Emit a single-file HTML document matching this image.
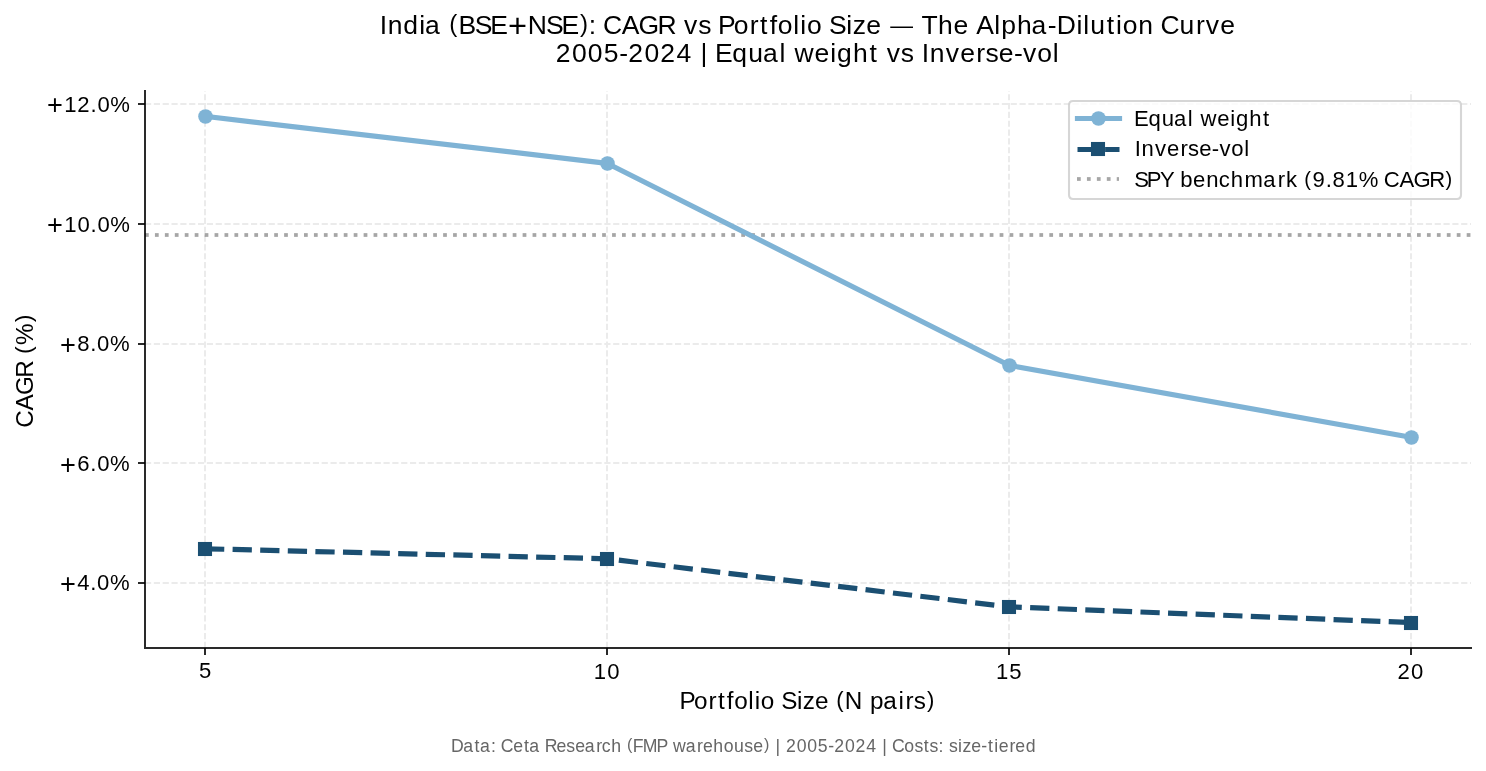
<!DOCTYPE html><html><head><meta charset="utf-8"><title>CAGR vs Portfolio Size</title><style>html,body{margin:0;padding:0;background:#fff;overflow:hidden}svg{display:block}svg{will-change:transform}text{font-family:"Liberation Sans",sans-serif;white-space:pre}</style></head><body>
<svg width="1486" height="771" viewBox="0 0 1486 771">
<rect x="0" y="0" width="1486" height="771" fill="#fff"/>
<defs><clipPath id="ax"><rect x="144.700" y="91.000" width="1326.600" height="556.900"/></clipPath></defs>
<g stroke="#ebebeb" stroke-width="2" stroke-dasharray="6.1667 2.6667" fill="none" clip-path="url(#ax)"><line x1="205" y1="648" x2="205" y2="91"/><line x1="607" y1="648" x2="607" y2="91"/><line x1="1009" y1="648" x2="1009" y2="91"/><line x1="1411" y1="648" x2="1411" y2="91"/><line x1="145" y1="583" x2="1471" y2="583"/><line x1="145" y1="463" x2="1471" y2="463"/><line x1="145" y1="344" x2="1471" y2="344"/><line x1="145" y1="224" x2="1471" y2="224"/><line x1="145" y1="104" x2="1471" y2="104"/></g>
<g fill="none" stroke="#808080" stroke-dasharray="3.75 6.1875" clip-path="url(#ax)"><line x1="145" y1="235" x2="1471" y2="235" stroke-width="2" stroke-opacity="0.7"/><line x1="145" y1="233.5" x2="1471" y2="233.5" stroke-width="1" stroke-opacity="0.6125"/><line x1="145" y1="236.5" x2="1471" y2="236.5" stroke-width="1" stroke-opacity="0.6125"/></g>
<g clip-path="url(#ax)">
<polyline points="205.000,116.314 607.000,163.296 1009.000,365.290 1411.000,437.290" fill="none" stroke="#7fb3d5" stroke-width="5.2083" stroke-linecap="square" stroke-linejoin="round"/>
<circle cx="205.500" cy="116.500" r="7.2917" fill="#7fb3d5"/>
<circle cx="607.500" cy="163.500" r="7.2917" fill="#7fb3d5"/>
<circle cx="1009.500" cy="365.500" r="7.2917" fill="#7fb3d5"/>
<circle cx="1411.500" cy="437.500" r="7.2917" fill="#7fb3d5"/>
<polyline points="205.000,548.791 607.000,558.786 1009.000,606.846 1411.000,622.586" fill="none" stroke="#1b4f72" stroke-width="5.2083" stroke-dasharray="19.2708 8.3333" stroke-linejoin="round"/>
<rect x="197.960" y="541.960" width="14.08" height="14.08" fill="#1b4f72"/>
<rect x="599.960" y="551.960" width="14.08" height="14.08" fill="#1b4f72"/>
<rect x="1001.960" y="599.960" width="14.08" height="14.08" fill="#1b4f72"/>
<rect x="1403.960" y="615.960" width="14.08" height="14.08" fill="#1b4f72"/>
</g>
<g fill="#000" fill-opacity="0.835"><rect x="144" y="90" width="2" height="559"/><rect x="146" y="647" width="1326" height="2"/><rect x="138" y="582" width="6" height="2"/><rect x="138" y="462" width="6" height="2"/><rect x="138" y="343" width="6" height="2"/><rect x="138" y="223" width="6" height="2"/><rect x="138" y="103" width="6" height="2"/><rect x="204" y="649" width="2" height="6"/><rect x="606" y="649" width="2" height="6"/><rect x="1008" y="649" width="2" height="6"/><rect x="1410" y="649" width="2" height="6"/></g>
<g fill="#070707"><rect x="144" y="582" width="1" height="2"/><rect x="144" y="462" width="1" height="2"/><rect x="144" y="343" width="1" height="2"/><rect x="144" y="223" width="1" height="2"/><rect x="144" y="103" width="1" height="2"/><rect x="204" y="648" width="2" height="1"/><rect x="606" y="648" width="2" height="1"/><rect x="1008" y="648" width="2" height="1"/><rect x="1410" y="648" width="2" height="1"/></g>
<path d="M 1073.167 199.000 L 1456.833 199.000 Q 1461.000 199.000 1461.000 194.833 L 1461.000 105.167 Q 1461.000 101.000 1456.833 101.000 L 1073.167 101.000 Q 1069.000 101.000 1069.000 105.167 L 1069.000 194.833 Q 1069.000 199.000 1073.167 199.000 Z" fill="#fff" stroke="#ccc" stroke-width="2.0833" opacity="0.8"/>
<line x1="1077.5" y1="118.5" x2="1119.5" y2="118.5" stroke="#7fb3d5" stroke-width="5.2083" stroke-linecap="square"/>
<circle cx="1098.5" cy="118.5" r="7.2917" fill="#7fb3d5"/>
<line x1="1077.5" y1="149.5" x2="1119.5" y2="149.5" stroke="#1b4f72" stroke-width="5.2083" stroke-dasharray="19.2708 8.3333"/>
<rect x="1090.960" y="141.960" width="14.08" height="14.08" fill="#1b4f72"/>
<g fill="none" stroke="#808080" stroke-dasharray="3.75 6.1875"><line x1="1077" y1="179" x2="1119" y2="179" stroke-width="2" stroke-opacity="0.7"/><line x1="1077" y1="177.5" x2="1119" y2="177.5" stroke-width="1" stroke-opacity="0.6125"/><line x1="1077" y1="180.5" x2="1119" y2="180.5" stroke-width="1" stroke-opacity="0.6125"/></g>
<text transform="translate(200.30,677.60) scale(1.0,1)" x="-1.21" y="0" font-size="22.083" fill="#000">5</text>
<text transform="translate(595.70,678.50) scale(1.0,1)" x="-1.92 11.47" y="0" font-size="22.083" fill="#000">10</text>
<text transform="translate(997.80,678.50) scale(1.0,1)" x="-1.92 11.39" y="0" font-size="22.083" fill="#000">15</text>
<text transform="translate(1398.80,678.50) scale(1.0,1)" x="-1.32 12.24" y="0" font-size="22.083" fill="#000">20</text>
<text transform="translate(61.40,590.00) scale(1.0,1)" x="-1.40 15.76 28.80 35.68 48.56" y="2.50 0 0 0 0" font-size="22.083" fill="#000"><tspan font-size="27.163">+</tspan>4.0%</text>
<text transform="translate(61.50,471.00) scale(1.0,1)" x="-1.40 15.77 28.80 35.68 48.56" y="2.50 0 0 0 0" font-size="22.083" fill="#000"><tspan font-size="27.163">+</tspan>6.0%</text>
<text transform="translate(61.40,351.00) scale(1.0,1)" x="-1.40 15.76 28.80 35.68 48.56" y="2.50 0 0 0 0" font-size="22.083" fill="#000"><tspan font-size="27.163">+</tspan>8.0%</text>
<text transform="translate(48.50,231.50) scale(1.0,1)" x="-1.40 15.65 29.05 42.08 48.96 61.84" y="2.50 0 0 0 0 0" font-size="22.083" fill="#000"><tspan font-size="27.163">+</tspan>10.0%</text>
<text transform="translate(48.50,111.50) scale(1.0,1)" x="-1.40 15.65 28.77 42.08 48.96 61.84" y="2.50 0 0 0 0 0" font-size="22.083" fill="#000"><tspan font-size="27.163">+</tspan>12.0%</text>
<text transform="translate(682.80,708.50) scale(1.0,1)" x="-3.32 11.18 25.77 35.13 43.99 51.35 65.57 71.94 78.06 91.79 98.36 114.08 119.99 132.29 146.02 153.53 162.01 179.33 187.26 200.52 215.63 222.60 230.96 244.16" y="0 0 0 0 0 0 0 0 0 0 0 0 0 0 0 -1.46 0 0 0 0 0 0 0 -1.46" font-size="24.292" fill="#000">Portfolio Size <tspan font-size="22.105">(</tspan>N pairs<tspan font-size="22.105">)</tspan></text>
<text transform="translate(32.50,424.90) rotate(-90) scale(1.0,1)" x="-2.75 14.42 29.95 47.24 63.58 71.09 79.86 102.85" y="0 0 0 0 0 -1.46 0 -1.46" font-size="24.292" fill="#000">CAGR <tspan font-size="22.105">(</tspan>%<tspan font-size="22.105">)</tspan></text>
<text transform="translate(382.20,33.60) scale(1.0,1)" x="-2.45 5.53 21.18 37.18 42.92 58.90 67.10 76.29 92.48 108.09 125.88 145.64 163.80 179.40 197.69 206.52 214.40 220.81 239.48 256.37 275.29 293.15 301.87 315.96 328.92 335.78 351.55 367.56 377.79 387.48 395.53 411.07 418.03 424.72 439.73 446.90 464.08 470.55 483.98 498.99 508.04 531.94 539.43 555.72 571.37 586.38 594.04 611.96 619.10 634.81 649.43 665.51 674.52 694.22 701.16 708.07 724.57 733.76 740.45 756.07 771.31 778.27 797.21 813.76 823.60 838.00" y="0 0 0 0 0 0 -1.60 0 0 0 3.00 0 0 0 -1.60 0 0 0 0 0 0 0 0 0 0 0 0 0 0 0 0 0 0 0 0 0 0 0 0 0 -1.07 0 0 0 0 0 0 0 0 0 0 0 0 0 0 0 0 0 0 0 0 0 0 0 0 0" font-size="26.500" fill="#000">India <tspan font-size="24.115">(</tspan>BSE<tspan font-size="32.595">+</tspan>NSE<tspan font-size="24.115">)</tspan>: CAGR vs Portfolio Size <tspan font-size="22.790">—</tspan> The Alpha-Dilution Curve</text>
<text transform="translate(557.30,61.50) scale(1.0,1)" x="-1.58 14.65 30.56 46.37 61.89 71.06 87.30 102.87 119.11 134.44 143.15 150.81 157.72 174.96 190.92 205.61 222.11 228.53 237.12 257.29 272.84 279.67 295.69 312.11 320.76 329.48 343.57 356.53 364.48 372.46 388.47 402.86 419.07 428.21 441.55 456.65 465.72 480.03 495.57" y="0" font-size="26.500" fill="#000">2005-2024 | Equal weight vs Inverse-vol</text>
<text transform="translate(1137.00,125.50) scale(1.0,1)" x="-2.90 11.49 24.81 37.08 50.86 56.22 63.39 80.24 93.22 98.92 112.29 126.01" y="0" font-size="22.083" fill="#000">Equal weight</text>
<text transform="translate(1136.90,155.50) scale(1.0,1)" x="-2.04 4.62 17.99 30.01 43.54 51.18 62.31 74.92 82.52 94.46 107.44" y="0" font-size="22.083" fill="#000">Inverse-vol</text>
<text transform="translate(1136.20,187.00) scale(1.0,1)" x="-2.06 10.44 23.71 36.72 43.95 56.91 69.95 82.63 94.63 108.39 127.17 141.51 149.76 161.18 168.03 176.38 189.48 196.36 209.53 222.52 242.28 247.57 263.23 277.41 293.16 309.29" y="0 0 0 0 0 0 0 0 0 0 0 0 0 0 -1.33 0 0 0 0 0 0 0 0 0 0 -1.33" font-size="22.083" fill="#000">SPY benchmark <tspan font-size="20.096">(</tspan>9.81% CAGR<tspan font-size="20.096">)</tspan></text>
<text transform="translate(452.50,751.50) scale(1.0,1)" x="-1.57 10.73 22.12 27.43 38.42 43.66 48.29 60.80 71.55 76.86 87.49 92.24 104.03 113.85 122.71 132.25 143.68 149.31 158.86 169.02 174.47 180.15 190.19 204.10 214.72 220.43 233.16 244.59 250.50 260.86 271.20 281.52 291.77 300.63 311.59 317.10 322.90 327.98 333.43 344.23 354.81 365.32 375.64 381.74 392.54 402.90 413.69 423.89 429.68 434.77 439.40 451.86 461.88 471.27 477.06 486.04 491.28 496.61 505.59 509.88 518.82 528.86 535.57 541.68 546.18 556.97 562.87 573.13" y="0 0 0 0 0 0 0 0 0 0 0 0 0 0 0 0 0 0 0 0 -1.06 0 0 0 0 0 0 0 0 0 0 0 0 0 -1.06 0 0 0 0 0 0 0 0 0 0 0 0 0 0 0 0 0 0 0 0 0 0 0 0 0 0 0 0 0 0 0 0 0" font-size="17.667" fill="#666666">Data: Ceta Research <tspan font-size="16.077">(</tspan>FMP warehouse<tspan font-size="16.077">)</tspan> | 2005-2024 | Costs: size-tiered</text>
</svg></body></html>
